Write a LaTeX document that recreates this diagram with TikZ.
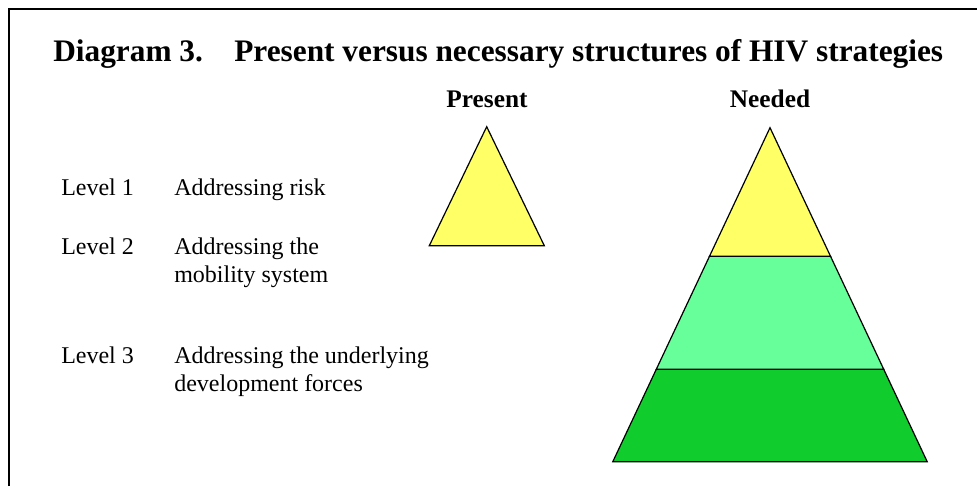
\documentclass[tikz,border=0pt]{standalone}
\usepackage{fontspec}
\setmainfont{Liberation Serif}
\definecolor{toplevel}{RGB}{255,255,102}
\definecolor{midlevel}{RGB}{102,255,153}
\definecolor{baselevel}{RGB}{17,204,45}

\begin{document}
\begin{tikzpicture}[x=0.75pt,y=-0.75pt,
  lvl/.style={anchor=base west,inner sep=0pt,font=\fontsize{18}{21}\selectfont},
  head/.style={anchor=base,inner sep=0pt,font=\fontsize{19}{22}\selectfont\bfseries},
  slab/.style={draw=black,line width=0.9pt,line join=miter}]
\newcommand{\apx}{770}
\newcommand{\apy}{127.7}
\newcommand{\slope}{0.4707}
\newcommand{\ya}{256.3}
\newcommand{\yb}{369.3}
\newcommand{\yc}{461.7}

\useasboundingbox (0,0) rectangle (977,486);
\draw[line width=1.5pt] (9,486) -- (9,9) -- (977,9);

\node[anchor=base west,inner sep=0pt,font=\fontsize{23.5}{26}\selectfont\bfseries] (title) at (53,61)
  {Diagram 3.\quad Present versus necessary structures of HIV strategies};
\node[head] (present) at (487,107) {Present};
\node[head] (needed) at (770,107) {Needed};

% present: one small triangle
\draw[slab,fill=toplevel] (486.7,126.7) -- (429.3,245.7) -- (544.3,245.7) -- cycle;

% needed: three stacked layers
\draw[slab,fill=baselevel] ({\apx-\slope*(\yb-\apy)},\yb) -- ({\apx+\slope*(\yb-\apy)},\yb)
  -- ({\apx+\slope*(\yc-\apy)},\yc) -- ({\apx-\slope*(\yc-\apy)},\yc) -- cycle;
\draw[slab,fill=midlevel] ({\apx-\slope*(\ya-\apy)},\ya) -- ({\apx+\slope*(\ya-\apy)},\ya)
  -- ({\apx+\slope*(\yb-\apy)},\yb) -- ({\apx-\slope*(\yb-\apy)},\yb) -- cycle;
\draw[slab,fill=toplevel] (\apx,\apy) -- ({\apx+\slope*(\ya-\apy)},\ya)
  -- ({\apx-\slope*(\ya-\apy)},\ya) -- cycle;

\node[lvl] (l1) at (61,195) {Level 1};
\node[lvl] (t1) at (174,195) {Addressing risk};
\node[lvl] (l2) at (61,254) {Level 2};
\node[lvl] (t2a) at (174,254) {Addressing the};
\node[lvl] (t2b) at (174,282) {mobility system};
\node[lvl] (l3) at (61,363) {Level 3};
\node[lvl] (t3a) at (174,363) {Addressing the underlying};
\node[lvl] (t3b) at (174,391) {development forces};
\end{tikzpicture}
\end{document}
